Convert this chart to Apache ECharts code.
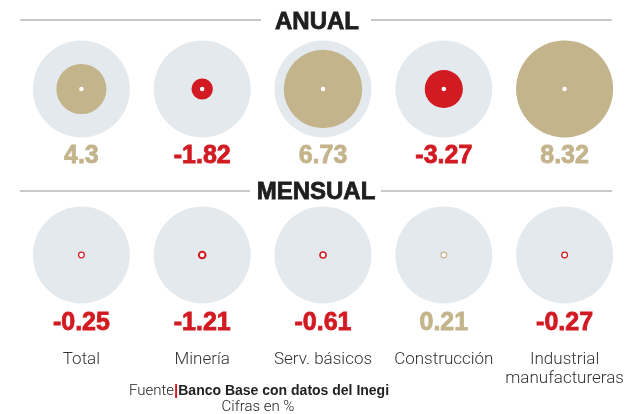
<!DOCTYPE html>
<html style="height: 100%">
<head>
<meta charset="utf-8">
</head>
<body style="height: 100%; margin: 0; background: #fff">
<div id="container" style="width: 634px; height: 414px"></div>
<script type="text/javascript" src="https://cdn.jsdelivr.net/npm/echarts@6/dist/echarts.min.js"></script>
<script type="text/javascript">
var categories = ['Total', 'Minería', 'Serv. básicos', 'Construcción', 'Industrial\nmanufactureras'];
var anual = [4.3, -1.82, 6.73, -3.27, 8.32];
var mensual = [-0.25, -1.21, -0.61, 0.21, -0.27];

var RED = '#d21a22';
var GOLD = '#c4b48c';
var GREY = '#e4e9ee';

var maxAbs = Math.max.apply(null, anual.map(Math.abs));
var k = 97 / maxAbs; // px of diameter per point

function colorOf(v) { return v < 0 ? RED : GOLD; }

// row 1 = anual, row 0 = mensual
var bgData = [], anualData = [], mensualData = [], dotData = [], labelData = [];
for (var i = 0; i < categories.length; i++) {
    bgData.push([i, 1], [i, 0]);
    dotData.push([i, 1], [i, 0]);
    anualData.push({ value: [i, 1, anual[i]], itemStyle: { color: colorOf(anual[i]) } });
    mensualData.push({ value: [i, 0, mensual[i]], itemStyle: { color: colorOf(mensual[i]) } });
    labelData.push({ value: [i, 1, anual[i]], label: { color: colorOf(anual[i]), textBorderColor: colorOf(anual[i]), offset: [0, 67] } });
    labelData.push({ value: [i, 0, mensual[i]], label: { color: colorOf(mensual[i]), textBorderColor: colorOf(mensual[i]), offset: [0, 68] } });
}

var myChart = echarts.init(document.getElementById('container'));

var lineStyle = { stroke: '#c8c8cd', lineWidth: 2 };

var option = {
    animation: false,
    grid: { left: 21, right: 9, top: 89, bottom: 159 },
    xAxis: {
        type: 'category',
        data: categories,
        axisLine: { show: false },
        axisTick: { show: false },
        axisLabel: {
            interval: 0,
            margin: 95,
            fontFamily: 'Roboto',
            fontWeight: 300,
            fontSize: 17,
            lineHeight: 19,
            color: '#333'
        }
    },
    yAxis: { type: 'value', min: 0, max: 1, show: false },
    graphic: [
        { type: 'line', shape: { x1: 20, y1: 20, x2: 261, y2: 20 }, style: lineStyle },
        { type: 'line', shape: { x1: 371, y1: 20, x2: 612, y2: 20 }, style: lineStyle },
        { type: 'line', shape: { x1: 20, y1: 191, x2: 250, y2: 191 }, style: lineStyle },
        { type: 'line', shape: { x1: 381, y1: 191, x2: 612, y2: 191 }, style: lineStyle },
        { type: 'text', x: 317, y: 22, style: { text: 'ANUAL', textAlign: 'center', textVerticalAlign: 'middle', font: 'bold 24px "Liberation Sans"', fill: '#1e1e1e', stroke: '#1e1e1e', lineWidth: 0.8 } },
        { type: 'text', x: 316, y: 192, style: { text: 'MENSUAL', textAlign: 'center', textVerticalAlign: 'middle', font: 'bold 24px "Liberation Sans"', fill: '#1e1e1e', stroke: '#1e1e1e', lineWidth: 0.8 } },
        {
            type: 'text', x: 259, y: 391,
            style: {
                text: '{a|Fuente}{r||}{b|Banco Base con datos del Inegi}',
                textAlign: 'center', textVerticalAlign: 'middle',
                rich: {
                    a: { fontFamily: 'Roboto', fontWeight: 300, fontSize: 15, fill: '#222' },
                    r: { fontFamily: 'Liberation Sans', fontWeight: 'bold', fontSize: 15, fill: RED },
                    b: { fontFamily: 'Liberation Sans', fontWeight: 'bold', fontSize: 14, fill: '#222' }
                }
            }
        },
        { type: 'text', x: 258, y: 407, style: { text: 'Cifras en %', textAlign: 'center', textVerticalAlign: 'middle', font: '300 15px Roboto', fill: '#222' } }
    ],
    series: [
        {
            type: 'scatter', data: bgData, symbolSize: maxAbs * k,
            itemStyle: { color: GREY, opacity: 1 }, silent: true
        },
        {
            type: 'scatter', data: anualData,
            symbolSize: function (val) { return Math.abs(val[2]) * k; },
            itemStyle: { opacity: 1 }
        },
        {
            type: 'scatter', data: mensualData,
            symbolSize: function (val) { return 6.5 + Math.abs(val[2]) * 1.8; },
            itemStyle: { opacity: 1 }
        },
        {
            type: 'scatter', data: dotData, symbolSize: 4.5,
            itemStyle: { color: '#fff', opacity: 1 }, silent: true
        },
        {
            type: 'scatter', data: labelData, symbolSize: 1,
            itemStyle: { color: '#fff', opacity: 1 },
            label: {
                show: true,
                opacity: 1,
                position: 'inside',
                formatter: function (p) { return String(p.value[2]); },
                fontFamily: 'Liberation Sans',
                fontWeight: 'bold',
                fontSize: 25,
                textBorderWidth: 0.8
            }
        }
    ]
};

myChart.setOption(option);
</script>
</body>
</html>
